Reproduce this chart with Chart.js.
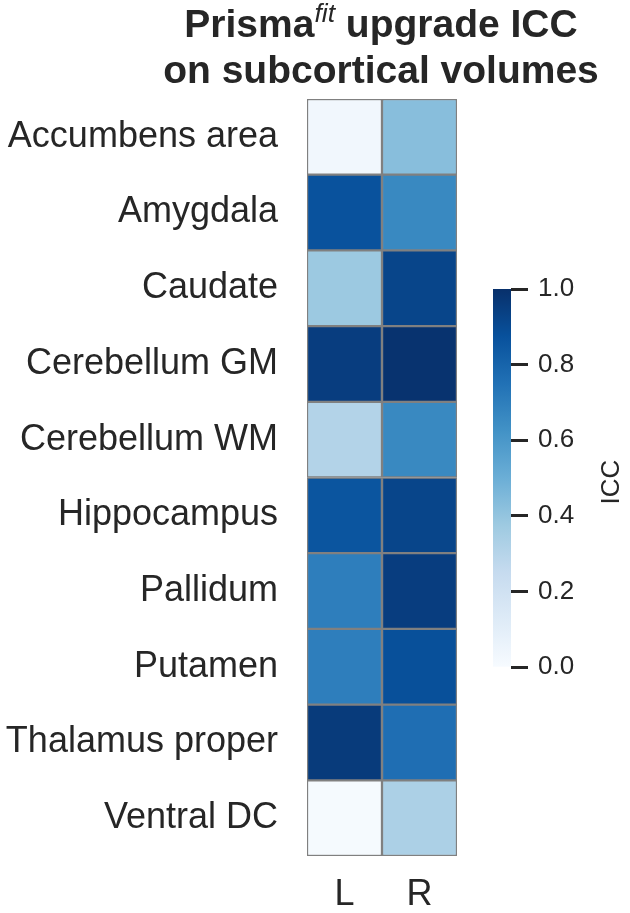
<!DOCTYPE html>
<html>
<head>
<meta charset="utf-8">
<script src="https://cdn.jsdelivr.net/npm/chart.js@4"></script>
<style>
  html, body { margin: 0; padding: 0; background: #fff; }
  #wrap { position: relative; width: 630px; height: 913px; }
  #title { position: absolute; left: 131px; width: 500px; top: 3px; text-align: center;
           font: bold 39px "Liberation Sans", Arial, sans-serif; line-height: 42px; color: #262626; }
  #title .sup { font-size: 0.68em; font-style: italic; font-weight: normal; position: relative; top: -0.55em; }
  #heat { position: absolute; left: 0; top: 0; }
  #cbar { position: absolute; left: 470px; top: 0; }
</style>
</head>
<body>
<div id="wrap">
  <canvas id="heat" width="470" height="913"></canvas>
  <canvas id="cbar" width="160" height="913"></canvas>
  <div id="title">Prisma<span class="sup">fit</span> upgrade ICC<br>on subcortical volumes</div>
</div>
<script>
// data
const rowLabels = ['Accumbens area', 'Amygdala', 'Caudate', 'Cerebellum GM', 'Cerebellum WM',
                   'Hippocampus', 'Pallidum', 'Putamen', 'Thalamus proper', 'Ventral DC'];
const colLabels = ['L', 'R'];
const iccLeft  = [0.03, 0.87, 0.38, 0.95, 0.31, 0.86, 0.70, 0.70, 0.96, 0.01];
const iccRight = [0.43, 0.66, 0.92, 0.99, 0.66, 0.92, 0.95, 0.88, 0.76, 0.33];
const cbarTicks = [0, 0.2, 0.4, 0.6, 0.8, 1.0];

const textColor = '#262626';
Chart.defaults.font.family = '"Liberation Sans", Arial, sans-serif';

// matplotlib "Blues"
const bluesStops = ['#f7fbff', '#deebf7', '#c6dbef', '#9ecae1', '#6baed6', '#4292c6', '#2171b5', '#08519c', '#08306b'];
function hexToRgb(h) {
  return [parseInt(h.slice(1, 3), 16), parseInt(h.slice(3, 5), 16), parseInt(h.slice(5, 7), 16)];
}
function blues(v) {
  const t = Math.min(Math.max(v, 0), 1) * (bluesStops.length - 1);
  const i = Math.min(Math.floor(t), bluesStops.length - 2);
  const f = t - i;
  const a = hexToRgb(bluesStops[i]), b = hexToRgb(bluesStops[i + 1]);
  const c = a.map((x, k) => Math.round(x + (b[k] - x) * f));
  return 'rgb(' + c.join(',') + ')';
}

// heatmap: each row is a category, the two columns are stacked unit cells
new Chart(document.getElementById('heat'), {
  type: 'bar',
  data: {
    labels: rowLabels,
    datasets: [
      { label: colLabels[0], data: rowLabels.map(() => 1), backgroundColor: iccLeft.map(blues) },
      { label: colLabels[1], data: rowLabels.map(() => 1), backgroundColor: iccRight.map(blues) }
    ]
  },
  options: {
    indexAxis: 'y',
    responsive: false,
    animation: false,
    datasets: {
      bar: { barPercentage: 1, categoryPercentage: 1, borderColor: '#808080', borderWidth: 1.5, borderSkipped: false }
    },
    layout: { padding: { left: 0, right: 13, top: 99, bottom: 0 } },
    plugins: { legend: { display: false }, tooltip: { enabled: false } },
    scales: {
      x: {
        type: 'linear', stacked: true, min: 0, max: 2,
        afterBuildTicks: s => { s.ticks = [{ value: 0.5 }, { value: 1.5 }]; },
        afterFit: s => { s.height = 57; },
        ticks: { callback: (v, i) => colLabels[i], font: { size: 36 }, color: textColor, padding: 17 },
        grid: { display: false, drawTicks: false },
        border: { display: false }
      },
      y: {
        stacked: true,
        afterFit: s => { s.width = 307; },
        ticks: { font: { size: 36 }, color: textColor, padding: 29, autoSkip: false },
        grid: { display: false, drawTicks: false },
        border: { display: false }
      }
    }
  }
});

// colour bar
const cbarLabel = {
  id: 'cbarLabel',
  afterDraw(chart) {
    const c = chart.ctx, a = chart.chartArea;
    c.save();
    c.translate(142, (a.top + a.bottom) / 2 + 4);
    c.rotate(-Math.PI / 2);
    c.font = '26px "Liberation Sans", Arial, sans-serif';
    c.fillStyle = textColor;
    c.textAlign = 'center';
    c.textBaseline = 'middle';
    c.fillText('ICC', 0, 0);
    c.restore();
  }
};

new Chart(document.getElementById('cbar'), {
  type: 'bar',
  data: {
    labels: ['ICC'],
    datasets: [{
      data: [1],
      borderWidth: 0,
      barPercentage: 1,
      categoryPercentage: 1,
      backgroundColor: ctx => {
        const area = ctx.chart.chartArea;
        if (!area) return blues(0.5);
        const g = ctx.chart.ctx.createLinearGradient(0, area.bottom, 0, area.top);
        bluesStops.forEach((col, i) => g.addColorStop(i / (bluesStops.length - 1), col));
        return g;
      }
    }]
  },
  options: {
    responsive: false,
    animation: false,
    layout: { padding: { left: 23, right: 0, top: 289, bottom: 246 } },
    plugins: { legend: { display: false }, tooltip: { enabled: false } },
    scales: {
      x: { display: false },
      y: {
        position: 'right', min: 0, max: 1,
        afterBuildTicks: s => { s.ticks = cbarTicks.map(v => ({ value: v })); },
        afterFit: s => { s.width = 119; },
        ticks: { callback: v => v.toFixed(1), font: { size: 26 }, color: textColor, padding: 10 },
        grid: { drawOnChartArea: false, drawTicks: true, tickLength: 17, tickColor: textColor, tickWidth: 3 },
        border: { display: false }
      }
    }
  },
  plugins: [cbarLabel]
});
</script>
</body>
</html>
